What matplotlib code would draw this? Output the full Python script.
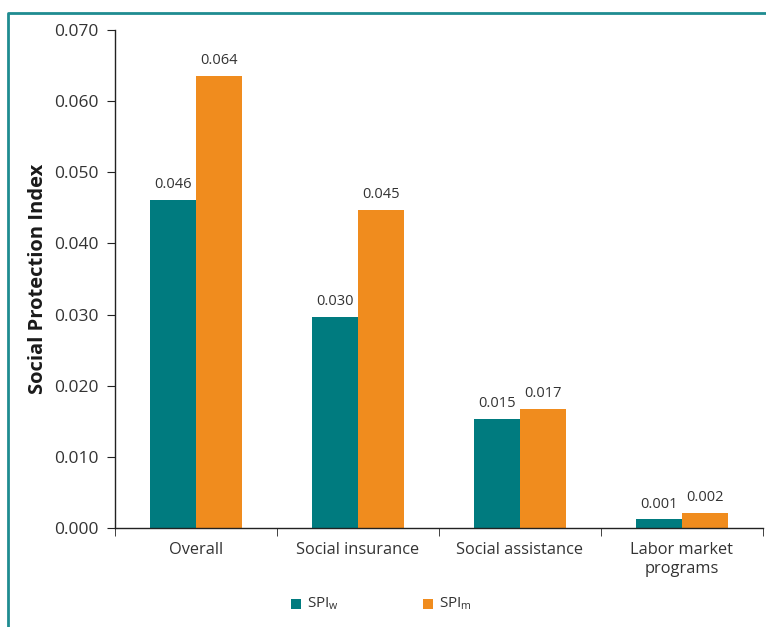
import matplotlib.pyplot as plt
from matplotlib.patches import Rectangle
import numpy as np

plt.rcParams['font.family'] = ['Open Sans', 'DejaVu Sans']

categories = ['Overall', 'Social insurance', 'Social assistance', 'Labor market\nprograms']
spi_w = [0.0461, 0.0297, 0.0153, 0.0012]
spi_m = [0.0636, 0.0447, 0.0167, 0.0021]
yticks = [0.000, 0.010, 0.020, 0.030, 0.040, 0.050, 0.060, 0.070]

teal = '#007b7f'
orange = '#f08c1e'
text_col = '#333333'

fig = plt.figure(figsize=(7.66, 6.27), dpi=100)
ax = fig.add_axes([0.150, 0.158, 0.846, 0.794])

x = np.arange(len(categories))
w = 0.284
b1 = ax.bar(x - w / 2, spi_w, w, color=teal)
b2 = ax.bar(x + w / 2, spi_m, w, color=orange)

for bars, vals in ((b1, spi_w), (b2, spi_m)):
    for r, v in zip(bars, vals):
        ax.text(r.get_x() + r.get_width() / 2, v + 0.0011, f'{v:.3f}',
                ha='center', va='bottom', fontsize=10.5, color=text_col)

ax.set_xlim(-0.5, len(categories) - 0.5)
ax.set_ylim(0, 0.070)
ax.set_yticks(yticks)
ax.set_yticklabels([f'{t:.3f}' for t in yticks], fontsize=12.5, color=text_col)
ax.set_xticks(x)
ax.set_xticklabels(categories, fontsize=11.8, color=text_col, va='top', linespacing=1.3)
ax.set_xticks(np.arange(-0.5, len(categories)), minor=True)
ax.tick_params(axis='x', which='major', length=0, pad=10)
ax.tick_params(axis='x', which='minor', length=6, direction='out', color='#222222')
ax.tick_params(axis='y', length=6, direction='out', color='#222222', pad=6)

for s in ('top', 'right'):
    ax.spines[s].set_visible(False)
for s in ('left', 'bottom'):
    ax.spines[s].set_color('#222222')
    ax.spines[s].set_linewidth(1)

ax.set_ylabel('Social Protection Index', fontsize=14.5, fontweight='bold',
              color='#1a1a1a', labelpad=4)

# legend below the axes
W, H = 766, 627
for x0, col, lab in ((291, teal, r'SPI$_\mathregular{w}$'),
                     (423, orange, r'SPI$_\mathregular{m}$')):
    fig.add_artist(Rectangle((x0 / W, 1 - 609 / H), 10 / W, 10 / H,
                             transform=fig.transFigure, color=col, lw=0))
    fig.text((x0 + 16) / W, 1 - 604 / H, lab, color=text_col, fontsize=11,
             ha='left', va='center')

# teal box frame around the panel
fig.add_artist(plt.Line2D([0.0105, 0.0105, 1.0], [0.0, 0.979, 0.979],
                          transform=fig.transFigure, color='#1f8c91', lw=2))

fig.savefig('out.png', dpi=100)
